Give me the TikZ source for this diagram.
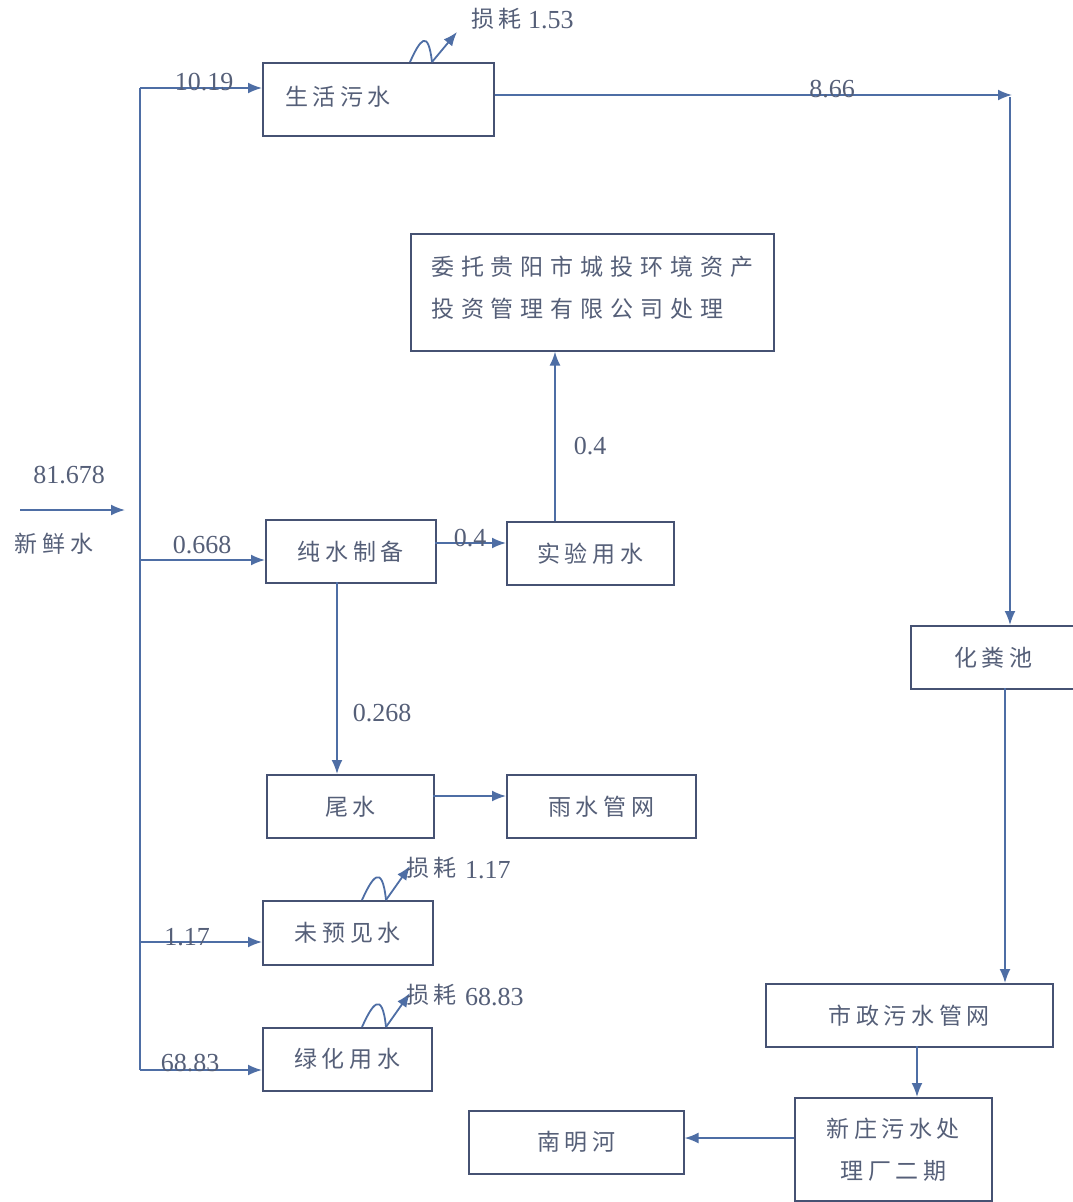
\documentclass[tikz,border=0pt]{standalone}
\usepackage{fontspec}
\setmainfont{Liberation Serif}
\newfontfamily\cjk[LetterSpace=20]{Noto Sans CJK SC}
\newfontfamily\cjkwide[LetterSpace=30]{Noto Sans CJK SC}
\usetikzlibrary{arrows.meta}
\definecolor{ln}{RGB}{78,110,165}
\definecolor{bx}{RGB}{70,82,115}
\definecolor{tx}{RGB}{85,95,120}
\tikzset{
  box/.style={draw=bx, line width=1.6pt, inner sep=0pt, anchor=north west, text=tx, font=\cjk\fontsize{23}{30}\selectfont, align=center},
  flow/.style={draw=ln, line width=1.8pt, -{Latex[length=14pt,width=11pt]}},
  plain/.style={draw=ln, line width=1.8pt},
  num/.style={text=tx, font=\fontsize{26}{28}\selectfont, inner sep=1pt},
  cn/.style={text=tx, font=\cjk\fontsize{23}{26}\selectfont, inner sep=1pt}
}
\begin{document}
\begin{tikzpicture}[x=1pt,y=-1pt]
\useasboundingbox[fill=white] (0,0) rectangle (1073,1202);
% boxes
\node[box, minimum width=231pt, minimum height=73pt] (shw) at (262,62) {};
\node[cn, anchor=west] at (284,97) {生活污水};
\node[box, minimum width=363pt, minimum height=117pt] (wt) at (410,233) {};
\node[cn, anchor=west, align=left, font=\cjkwide\fontsize{23}{42}\selectfont] at (430,288) {委托贵阳市城投环境资产\\投资管理有限公司处理};
\node[box, minimum width=170pt, minimum height=63pt] (csz) at (265,519) {纯水制备};
\node[box, minimum width=167pt, minimum height=63pt] (sy) at (506,521) {实验用水};
\node[box, minimum width=165pt, minimum height=63pt] (hfc) at (910,625) {化粪池};
\node[box, minimum width=167pt, minimum height=63pt] (ws) at (266,774) {尾水};
\node[box, minimum width=189pt, minimum height=63pt] (ysgw) at (506,774) {雨水管网};
\node[box, minimum width=170pt, minimum height=64pt] (wyj) at (262,900) {未预见水};
\node[box, minimum width=169pt, minimum height=63pt] (lh) at (262,1027) {绿化用水};
\node[box, minimum width=287pt, minimum height=63pt] (szgw) at (765,983) {市政污水管网};
\node[box, minimum width=197pt, minimum height=103pt, font=\cjk\fontsize{23}{42}\selectfont] (xz) at (794,1097) {新庄污水处\\理厂二期};
\node[box, minimum width=215pt, minimum height=63pt] (nmh) at (468,1110) {南明河};
% fresh water
\coordinate (fw0) at (20,510);
\coordinate (fw1) at (125,510);
\draw[flow] (fw0) -- (fw1);
\node[num] at (69,475) {81.678};
\node[cn] at (54,544) {新鲜水};
% trunk
\coordinate (t0) at (140,88);
\coordinate (t1) at (140,560);
\coordinate (t2) at (140,942);
\coordinate (t3) at (140,1070);
\draw[plain] (t0) -- (t3);
\draw[flow] (t0) -- (shw.west |- t0);
\node[num, anchor=south] at (204,92) {10.19};
\draw[flow] (t1) -- (csz.west |- t1);
\node[num, anchor=south] at (202,555) {0.668};
\draw[flow] (t2) -- (wyj.west |- t2);
\node[num, anchor=south] at (187,947) {1.17};
\draw[flow] (t3) -- (lh.west |- t3);
\node[num, anchor=south] at (190,1073) {68.83};
% right side
\coordinate (c1) at (1012,95);
\draw[flow] (shw.east |- c1) -- (c1);
\node[num, anchor=south] at (832,99) {8.66};
\coordinate (c2) at (1010,97);
\draw[flow] (c2) -- (hfc.north -| c2);
\coordinate (c3) at (1005,688);
\draw[flow] (c3) -- (szgw.north -| c3);
\coordinate (c4) at (917,1046);
\draw[flow] (c4) -- (xz.north -| c4);
\coordinate (c5) at (794,1138);
\draw[flow] (c5) -- (nmh.east |- c5);
% middle
\coordinate (m1) at (435,543);
\draw[flow] (m1) -- (sy.west |- m1);
\node[num, anchor=south] at (470,548) {0.4};
\coordinate (m2) at (555,521);
\draw[flow] (m2) -- (wt.south -| m2);
\node[num] at (590,446) {0.4};
\coordinate (m3) at (337,582);
\draw[flow] (m3) -- (ws.north -| m3);
\node[num] at (382,713) {0.268};
\coordinate (m4) at (433,796);
\draw[flow] (m4) -- (ysgw.west |- m4);
% losses
\coordinate (l1a) at (410,62);
\coordinate (l1b) at (432,62);
\draw[plain] (l1a) .. controls (420,40) and (428,28) .. (l1b);
\draw[flow] (l1b) -- (457,32);
\node[cn, anchor=west] at (470,19) {损耗};
\node[num, anchor=west] at (527,20) {1.53};
\coordinate (l2a) at (362,900);
\coordinate (l2b) at (386,900);
\draw[plain] (l2a) .. controls (372,878) and (382,862) .. (l2b);
\draw[flow] (l2b) -- (410,866);
\node[cn, anchor=west] at (405,868) {损耗};
\node[num, anchor=west] at (464,870) {1.17};
\coordinate (l3a) at (362,1027);
\coordinate (l3b) at (386,1027);
\draw[plain] (l3a) .. controls (372,1005) and (382,989) .. (l3b);
\draw[flow] (l3b) -- (410,993);
\node[cn, anchor=west] at (405,995) {损耗};
\node[num, anchor=west] at (464,997) {68.83};
\end{tikzpicture}
\end{document}
